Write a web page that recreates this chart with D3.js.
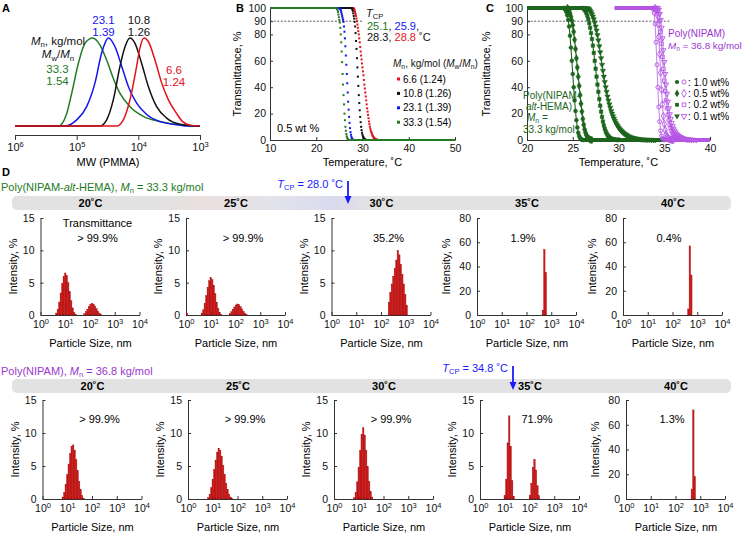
<!DOCTYPE html>
<html><head><meta charset="utf-8">
<script src="https://cdn.jsdelivr.net/npm/d3@7"></script>
<style>body{margin:0;background:#fff}</style>
</head><body>
<svg id="c" width="743" height="533"></svg>
<script>
// ================= DATA =================
// Panel A: GPC traces (log10 MW, normalized signal)
const aLabels = ["33.3", "23.1", "10.8", "6.6"];
const aDispersity = ["1.54", "1.39", "1.26", "1.24"];
const aLog33 = [6, 5.297, 5.162, 5.081, 4.973, 4.865, 4.741, 4.622, 4.514, 4.405, 4.297, 4.135, 3.919, 3.649, 3.324, 3.0];
const aH33   = [0, 0, 0.14, 0.37, 0.71, 0.94, 1.0, 0.92, 0.75, 0.54, 0.37, 0.22, 0.11, 0.05, 0.01, 0];
const aLog23 = [6, 5.189, 5.0, 4.838, 4.703, 4.595, 4.486, 4.378, 4.27, 4.162, 4.027, 3.865, 3.649, 3.324, 3.216, 3.0];
const aH23   = [0, 0, 0.07, 0.22, 0.49, 0.83, 1.0, 0.9, 0.68, 0.45, 0.26, 0.13, 0.05, 0.01, 0, 0];
const aLog108 = [6, 4.622, 4.514, 4.405, 4.297, 4.216, 4.135, 4.054, 3.946, 3.838, 3.703, 3.541, 3.324, 3.054, 3.0];
const aH108   = [0, 0, 0.07, 0.3, 0.68, 0.9, 1.0, 0.94, 0.71, 0.45, 0.22, 0.09, 0.02, 0, 0];
const aLog66 = [6, 4.351, 4.243, 4.135, 4.027, 3.973, 3.908, 3.838, 3.730, 3.622, 3.514, 3.378, 3.281, 3.162, 3.0];
const aH66   = [0, 0, 0.07, 0.3, 0.68, 0.89, 1.0, 0.96, 0.75, 0.49, 0.3, 0.14, 0.05, 0.01, 0];
const aTicks = [1e6, 1e5, 1e4, 1e3];

// Panel B: transmittance vs temperature (0.5 wt%)
const bTicksY = [0, 20, 40, 60, 80, 90, 100];
const bTicksX = [10, 20, 30, 40, 50];
const bTcp = ["25.1", "25.9", "28.3", "28.8"];
const bLegend = ["6.6 (1.24)", "10.8 (1.26)", "23.1 (1.39)", "33.3 (1.54)"];
const bRed = [[28.0,100],[28.1,99.7],[28.2,99.2],[28.3,98.3],[28.4,97],[28.5,95.5],[28.6,94],[28.7,92],[28.8,90],[28.9,87.5],[29.0,85],[29.1,82.5],[29.2,80],[29.3,77],[29.4,74],[29.5,70.5],[29.6,67],[29.7,64],[29.8,61],[29.9,58],[30.0,55],[30.1,52],[30.2,49],[30.3,45.5],[30.4,42],[30.5,39],[30.6,36],[30.7,33],[30.8,30],[30.9,27],[31.0,24],[31.1,21.5],[31.2,19],[31.3,16.5],[31.4,14],[31.5,12],[31.6,10],[31.7,8.5],[31.8,7],[31.9,6],[32.0,5],[32.1,4],[32.2,3.3],[32.3,2.6],[32.4,2],[32.5,1.6],[32.6,1.2],[32.7,0.9],[32.8,0.6],[32.9,0.4],[33.0,0.3],[33.1,0.2],[33.2,0.1],[33.3,0]];
const bBlack = [[27.6,100],[27.7,99.7],[27.8,99],[27.9,97.8],[28.0,96],[28.1,94],[28.2,92],[28.3,89.5],[28.4,86],[28.5,81],[28.6,75],[28.7,69],[28.8,62],[28.9,55],[29.0,48],[29.1,41],[29.2,34],[29.3,28],[29.4,22.5],[29.5,17.5],[29.6,13.5],[29.7,10],[29.8,7.5],[29.9,5.5],[30.0,4],[30.1,2.8],[30.2,2],[30.3,1.3],[30.4,0.8],[30.5,0.5],[30.6,0.3],[30.7,0.1],[30.8,0]];
const bBlue = [[25.0,100],[25.1,99.7],[25.2,99.2],[25.3,98.3],[25.4,97],[25.5,95.5],[25.6,94],[25.7,92.5],[25.8,91],[25.9,89.5],[26.0,86],[26.1,82],[26.2,77],[26.3,71],[26.4,64],[26.5,57],[26.6,50],[26.7,43],[26.8,36],[26.9,29],[27.0,23],[27.1,17.5],[27.2,13],[27.3,9],[27.4,6],[27.5,4],[27.6,2.5],[27.7,1.4],[27.8,0.7],[27.9,0.2],[28.0,0]];
const bGreen = [[24.3,100],[24.4,99.8],[24.5,99.3],[24.6,98.5],[24.7,97],[24.8,95],[24.9,93],[25.0,91],[25.1,89],[25.2,85],[25.3,80],[25.4,74],[25.5,67],[25.6,59],[25.7,50],[25.8,42],[25.9,34],[26.0,27],[26.1,20],[26.2,15],[26.3,10],[26.4,7],[26.5,4.5],[26.6,2.8],[26.7,1.6],[26.8,0.8],[26.9,0.3],[27.0,0]];

// Panel C: concentration dependence
const cTicksX = [20, 25, 30, 35, 40];
const cLegend = ["1.0 wt%", "0.5 wt%", "0.2 wt%", "0.1 wt%"];
const cG10 = [[24.0,100],[24.1,99.5],[24.2,98.5],[24.3,97],[24.4,94.5],[24.5,91],[24.6,86],[24.7,79],[24.8,70],[24.9,60],[25.0,50],[25.1,40],[25.2,30],[25.3,22],[25.4,15],[25.5,9.5],[25.6,5.5],[25.7,3],[25.8,1.5],[25.9,0.6],[26.0,0.2],[26.1,0]];
const cG05 = [[24.4,100],[24.5,99.3],[24.6,98],[24.7,96],[24.8,93.5],[24.9,90.5],[25.0,87],[25.1,82],[25.2,76],[25.3,69],[25.4,62],[25.5,55],[25.6,48],[25.7,41],[25.8,34],[25.9,27.5],[26.0,21.5],[26.1,16],[26.2,11.5],[26.3,8],[26.4,5.5],[26.5,3.5],[26.6,2.2],[26.7,1.3],[26.8,0.7],[26.9,0.3],[27.0,0.1],[27.1,0]];
const cG02 = [[26.1,100],[26.2,99.5],[26.3,98.7],[26.4,97.5],[26.5,96],[26.6,94],[26.7,91.5],[26.8,88.5],[26.9,85],[27.0,81],[27.1,76.5],[27.2,71.5],[27.3,66],[27.4,60],[27.5,54],[27.6,48],[27.7,42],[27.8,36.5],[27.9,31],[28.0,26],[28.1,21.5],[28.2,17.5],[28.3,14],[28.4,11],[28.5,8.5],[28.6,6.5],[28.7,5],[28.8,3.8],[28.9,2.8],[29.0,2],[29.1,1.5],[29.2,1.1],[29.3,0.8],[29.4,0.6],[29.5,0.4],[29.6,0.3],[29.7,0.2],[29.8,0.1],[29.9,0.05],[30.0,0]];
const cG01 = [[26.6,100],[26.7,99.6],[26.8,99],[26.9,98],[27.0,96.8],[27.1,95.2],[27.2,93.5],[27.3,91.5],[27.4,89],[27.5,86],[27.6,83],[27.7,79.5],[27.8,75.5],[27.9,71],[28.0,66.5],[28.1,62],[28.2,57],[28.3,52.5],[28.4,48],[28.5,44],[28.6,40],[28.7,36.5],[28.8,33],[28.9,30],[29.0,27],[29.1,24.5],[29.2,22],[29.3,20],[29.4,18],[29.5,16.2],[29.6,14.6],[29.7,13.1],[29.8,11.8],[29.9,10.6],[30.0,9.5],[30.1,8.6],[30.2,7.7],[30.3,6.9],[30.4,6.2],[30.5,5.6],[30.6,5],[30.7,4.5],[30.8,4],[30.9,3.6],[31.0,3.2],[31.2,2.6],[31.4,2.1],[31.6,1.6],[31.8,1.3],[32.0,1.0],[32.2,0.8],[32.4,0.6],[32.6,0.45],[32.8,0.35],[33.0,0.25],[33.2,0.18],[33.4,0.12],[33.6,0.08],[33.8,0.04],[34.0,0]];
const cP10 = [[33.7,100],[33.8,99],[33.9,96],[34.0,88],[34.1,74],[34.2,57],[34.3,40],[34.4,25],[34.5,14],[34.6,7],[34.7,3],[34.8,1.2],[34.9,0.4],[35.0,0]];
const cP05 = [[34.0,100],[34.1,98.5],[34.2,95],[34.3,88],[34.4,78],[34.5,65],[34.6,51],[34.7,38],[34.8,27],[34.9,18],[35.0,12],[35.1,7.5],[35.2,4.5],[35.3,2.7],[35.4,1.6],[35.5,0.9],[35.6,0.5],[35.7,0.3],[35.8,0.2],[35.9,0.1],[36.0,0]];
const cP02 = [[34.2,100],[34.3,98.5],[34.4,95.5],[34.5,90],[34.6,82],[34.7,73],[34.8,63],[34.9,54],[35.0,45],[35.1,37],[35.2,30],[35.3,24],[35.4,19],[35.5,15],[35.6,11.5],[35.7,9],[35.8,7],[35.9,5.4],[36.0,4.2],[36.1,3.3],[36.2,2.6],[36.3,2],[36.4,1.6],[36.5,1.3],[36.6,1.0],[36.8,0.6],[37.0,0.3],[37.2,0.15],[37.4,0.05],[37.6,0]];
const cP01 = [[34.3,100],[34.4,98.5],[34.5,95.5],[34.6,91],[34.7,85],[34.8,77],[34.9,68],[35.0,59],[35.1,50],[35.2,42],[35.3,35],[35.4,29],[35.5,24],[35.6,19.5],[35.7,16],[35.8,13],[35.9,10.5],[36.0,8.6],[36.1,7.1],[36.2,5.8],[36.3,4.8],[36.4,4],[36.5,3.4],[36.6,2.8],[36.7,2.4],[36.8,2],[36.9,1.7],[37.0,1.4],[37.2,1.0],[37.4,0.7],[37.6,0.45],[37.8,0.3],[38.0,0.2],[38.2,0.1],[38.5,0]];
const cGreenStart = 20, cGreenEnd = 35, cPurpleStart = 29.6, cPurpleEnd = 40;

// Panel D: DLS histograms (bin step in log10 nm, first bin centre, intensities %)
const dTemps = ["20˚C", "25˚C", "30˚C", "35˚C", "40˚C"];
const dBinStep = 0.06;
const r1Start = [0.64, 0.04, 2.32, 2.66, 2.64];
const r1h20 = [0.3,0.9,2.0,3.4,4.9,6.0,6.5,6.1,5.0,3.6,2.2,1.1,0.4,0.1,0,0,0,0,0,0.2,0.5,0.9,1.3,1.65,1.8,1.7,1.4,1.0,0.6,0.3,0.1];
const r1h25 = [0.3,0,0,0,0,0,0,0,0,0,0.3,0.8,1.8,3.0,4.3,5.3,5.8,5.5,4.6,3.3,2.0,1.0,0.4,0.1,0,0,0,0,0,0.2,0.5,0.9,1.25,1.55,1.7,1.6,1.3,0.95,0.6,0.3,0.1];
const r1h30 = [2.0,3.5,4.8,6.0,7.2,8.5,10.0,9.3,7.8,6.3,4.8,3.2,1.5];
const r1h35 = [4, 54, 35];
const r1h40 = [5, 57, 33];
const r1YMax = [15, 15, 15, 80, 80];
const r1Notes = ["> 99.9%", "> 99.9%", "35.2%", "1.9%", "0.4%"];
const r2Start = [0.82, 0.82, 0.82, 1.00, 2.66];
const r2h20 = [0.3,1.0,2.2,3.7,5.3,6.9,8.0,8.2,7.4,6.0,4.3,2.7,1.4,0.5,0.1];
const r2h25 = [0.2,0.7,1.7,3.0,4.5,5.9,7.1,7.7,7.4,6.5,5.1,3.7,2.4,1.4,0.7,0.3,0.1];
const r2h30 = [0.2,1.0,2.6,4.8,7.4,9.8,10.8,9.7,7.4,4.9,2.7,1.1,0.3];
const r2h35 = [0.5,3.0,8.5,12.6,8.0,2.8,0.4,0,0,0,0,0,0,0,0,0,0,0.6,2.4,4.8,6.0,4.4,2.0,0.5];
const r2h40 = [8, 72, 18];
const r2YMax = [15, 15, 15, 15, 80];
const r2Notes = ["> 99.9%", "> 99.9%", "> 99.9%", "71.9%", "1.3%"];
const dTcp = ["28.0", "34.8"];

// ================= DRAWING =================
const FONT = '"Liberation Sans", Arial, Helvetica, sans-serif';
const GREEN = "#237a23", CGREEN = "#1d651d", BLUE = "#1414f0", RED = "#e3121b", BLACK = "#111";
const PURPLE = "#9a36cf", PLINE = "#b455e4";
const svg = d3.select("#c").attr("font-family", FONT);

function rich(g, x, y, parts, size = 11, anchor = "start", fill = "#111") {
  const t = g.append("text").attr("x", x).attr("y", y).attr("font-size", size)
    .attr("text-anchor", anchor).attr("fill", fill);
  let shift = 0;
  parts.forEach(p => {
    if (typeof p === "string") p = { t: p };
    const s = t.append("tspan").text(p.t);
    const target = p.sub ? size * 0.22 : p.sup ? -size * 0.38 : 0;
    if (target !== shift) { s.attr("dy", target - shift); shift = target; }
    if (p.sub || p.sup) s.attr("font-size", size * 0.68);
    if (p.i) s.attr("font-style", "italic");
    if (p.c) s.attr("fill", p.c);
    if (p.b) s.attr("font-weight", "bold");
  });
  return t;
}
function styleAxis(g, fs = 10.5) {
  g.attr("font-family", FONT).attr("font-size", fs);
  g.selectAll("path.domain").attr("stroke", "#333");
  g.selectAll(".tick line").attr("stroke", "#333");
  g.selectAll(".tick text").attr("fill", "#111");
}
function supLabels(g) {
  g.selectAll(".tick text").each(function (d) {
    const e = Math.round(Math.log10(d));
    const t = d3.select(this).text(null);
    t.append("tspan").text("10");
    t.append("tspan").attr("dy", -4).attr("font-size", 7.5).text(e);
  });
}
function panelLabel(x, y, s) {
  svg.append("text").attr("x", x).attr("y", y).attr("font-size", 11).attr("font-weight", "bold").text(s);
}
panelLabel(2, 12, "A"); panelLabel(236, 12, "B"); panelLabel(486, 12, "C"); panelLabel(2, 176, "D");

// ---------- Panel A ----------
{
  const g = svg.append("g");
  const x = d3.scaleLog().domain([1e6, 1e3]).range([15, 200]);
  const y = d3.scaleLinear().domain([0, 1]).range([126, 38]);
  const ax = g.append("g").attr("transform", "translate(0,135)")
    .call(d3.axisBottom(x).tickValues(aTicks).tickSize(5).tickSizeOuter(0).tickPadding(3));
  styleAxis(ax, 11); supLabels(ax);
  g.append("text").attr("x", 108).attr("y", 166).attr("text-anchor", "middle").attr("font-size", 11).text("MW (PMMA)");
  const series = [[aLog33, aH33, GREEN], [aLog23, aH23, BLUE], [aLog108, aH108, BLACK], [aLog66, aH66, RED]];
  const line = d3.line().x(d => x(Math.pow(10, d[0]))).y(d => y(d[1])).curve(d3.curveMonotoneX);
  series.forEach(([lx, h, c]) => {
    g.append("path").attr("d", line(lx.map((v, i) => [v, h[i]]))).attr("fill", "none")
      .attr("stroke", c).attr("stroke-width", 1.5);
  });
  const fs = 11.5;
  rich(g, 103.5, 23.5, [aLabels[1]], fs, "middle", BLUE);
  rich(g, 103.5, 36, [aDispersity[1]], fs, "middle", BLUE);
  rich(g, 139, 23.5, [aLabels[2]], fs, "middle", BLACK);
  rich(g, 139, 36, [aDispersity[2]], fs, "middle", BLACK);
  rich(g, 58, 44.5, [{ t: "M", i: 1 }, { t: "n", sub: 1 }, ", kg/mol"], 11.5, "middle");
  rich(g, 58, 58, [{ t: "M", i: 1 }, { t: "w", sub: 1 }, "/", { t: "M", i: 1 }, { t: "n", sub: 1 }], 11.5, "middle");
  rich(g, 57.5, 72.5, [aLabels[0]], fs, "middle", GREEN);
  rich(g, 57.5, 85, [aDispersity[0]], fs, "middle", GREEN);
  rich(g, 174, 73.5, [aLabels[3]], fs, "middle", RED);
  rich(g, 174, 86, [aDispersity[3]], fs, "middle", RED);
}

// ---------- Transmittance panels helper ----------
function tAxes(g, x, y, ticksX, yLabelX) {
  const ay = g.append("g").attr("transform", `translate(${x.range()[0]},0)`)
    .call(d3.axisLeft(y).tickValues(bTicksY).tickSize(-3).tickSizeOuter(0).tickPadding(4));
  styleAxis(ay, 10.5);
  const axx = g.append("g").attr("transform", `translate(0,${y.range()[0]})`)
    .call(d3.axisBottom(x).tickValues(ticksX).tickSize(-3).tickSizeOuter(0).tickPadding(5));
  styleAxis(axx, 10.5);
  g.append("text").attr("transform", `translate(${yLabelX},74) rotate(-90)`).attr("text-anchor", "middle")
    .attr("font-size", 11).text("Transmittance, %");
  g.append("text").attr("x", (x.range()[0] + x.range()[1]) / 2).attr("y", 166).attr("text-anchor", "middle")
    .attr("font-size", 11).text("Temperature, ˚C");
}

// ---------- Panel B ----------
{
  const g = svg.append("g");
  const x = d3.scaleLinear().domain([10, 50]).range([270, 455]);
  const y = d3.scaleLinear().domain([0, 100]).range([140, 8]);
  tAxes(g, x, y, bTicksX, 241);
  g.append("line").attr("x1", x(10)).attr("x2", x(30.1)).attr("y1", y(90)).attr("y2", y(90))
    .attr("stroke", "#333").attr("stroke-width", 0.8).attr("stroke-dasharray", "2,1.6");
  const series = [[bRed, RED], [bBlack, BLACK], [bBlue, BLUE], [bGreen, GREEN]];
  series.forEach(([d, c]) => {
    const f = d[0], l = d[d.length - 1];
    g.append("line").attr("x1", x(10)).attr("x2", x(f[0])).attr("y1", y(f[1])).attr("y2", y(f[1]))
      .attr("stroke", c).attr("stroke-width", 2.2);
    g.append("line").attr("x1", x(l[0])).attr("x2", x(50)).attr("y1", y(l[1])).attr("y2", y(l[1]))
      .attr("stroke", c).attr("stroke-width", 2.2);
    g.selectAll(null).data(d).enter().append("rect")
      .attr("x", p => x(p[0]) - 1).attr("y", p => y(p[1]) - 1).attr("width", 2).attr("height", 2).attr("fill", c);
  });
  rich(g, 366, 17, [{ t: "T", i: 1 }, { t: "CP", sub: 1 }], 11);
  rich(g, 367, 30, [{ t: bTcp[0], c: GREEN }, ", ", { t: bTcp[1], c: BLUE }, ","], 11);
  rich(g, 367, 41, [{ t: bTcp[2], c: BLACK }, ", ", { t: bTcp[3], c: RED }, " ˚C"], 11);
  rich(g, 393, 67, [{ t: "M", i: 1 }, { t: "n", sub: 1 }, ", kg/mol (", { t: "M", i: 1 }, { t: "w", sub: 1 }, "/", { t: "M", i: 1 }, { t: "n", sub: 1 }, ")"], 10);
  const lc = [RED, BLACK, BLUE, GREEN];
  bLegend.forEach((s, i) => {
    const yy = 79 + i * 14.4;
    g.append("rect").attr("x", 397).attr("y", yy - 1.5).attr("width", 3).attr("height", 3).attr("fill", lc[i]);
    g.append("text").attr("x", 403).attr("y", yy + 3.6).attr("font-size", 10).text(s);
  });
  g.append("text").attr("x", 277).attr("y", 132).attr("font-size", 11).text("0.5 wt %");
}

// ---------- Panel C ----------
{
  const g = svg.append("g");
  const x = d3.scaleLinear().domain([20, 40]).range([527, 710]);
  const y = d3.scaleLinear().domain([0, 100]).range([140, 8]);
  tAxes(g, x, y, cTicksX, 490);
  g.append("line").attr("x1", x(20)).attr("x2", x(35.6)).attr("y1", y(90)).attr("y2", y(90))
    .attr("stroke", "#333").attr("stroke-width", 0.8).attr("stroke-dasharray", "2,1.6");
  const sym = [d3.symbolCircle, d3.symbolDiamond, d3.symbolSquare, d3.symbolTriangle];
  const rot = [0, 0, 0, 180];
  const line = d3.line().x(p => x(p[0])).y(p => y(p[1]));
  function drawSeries(d, k, color, lineColor, filled, t0, t1) {
    const f = d[0], l = d[d.length - 1];
    g.append("path").attr("d", line([[t0, f[1]], ...d, [t1, l[1]]])).attr("fill", "none")
      .attr("stroke", lineColor).attr("stroke-width", 1.1);
    g.append("line").attr("x1", x(t0)).attr("x2", x(f[0])).attr("y1", y(f[1])).attr("y2", y(f[1]))
      .attr("stroke", color).attr("stroke-width", 4);
    g.append("line").attr("x1", x(l[0])).attr("x2", x(t1)).attr("y1", y(l[1])).attr("y2", y(l[1]))
      .attr("stroke", color).attr("stroke-width", 4);
    const s = d3.symbol().type(sym[k]).size(k === 1 ? 16 : 12);
    g.selectAll(null).data(d).enter().append("path").attr("d", s)
      .attr("transform", p => `translate(${x(p[0])},${y(p[1])}) rotate(${rot[k]})`)
      .attr("fill", filled ? color : "none").attr("stroke", color).attr("stroke-width", filled ? 0.5 : 0.9);
  }
  [cG10, cG05, cG02, cG01].forEach((d, k) => drawSeries(d, k, CGREEN, CGREEN, true, cGreenStart, cGreenEnd));
  [cP10, cP05, cP02, cP01].forEach((d, k) => drawSeries(d, k, PLINE, "#c98aea", false, cPurpleStart, cPurpleEnd));
  rich(g, 668, 37, ["Poly(NIPAM)"], 10, "start", PURPLE);
  rich(g, 668, 49, [{ t: "M", i: 1 }, { t: "n", sub: 1 }, " = 36.8 kg/mol"], 9.8, "start", PURPLE);
  rich(g, 523, 99, ["Poly(NIPAM-"], 10, "start", CGREEN);
  rich(g, 526, 110, [{ t: "alt", i: 1 }, "-HEMA)"], 10, "start", CGREEN);
  rich(g, 527, 121, [{ t: "M", i: 1 }, { t: "n", sub: 1 }, " ="], 10, "start", CGREEN);
  rich(g, 523, 133, ["33.3 kg/mol"], 10, "start", CGREEN);
  cLegend.forEach((s, k) => {
    const yy = 82 + k * 11.4;
    const sy = d3.symbol().type(sym[k]).size(k === 1 ? 18 : 14);
    g.append("path").attr("d", sy).attr("transform", `translate(677,${yy}) rotate(${rot[k]})`).attr("fill", CGREEN);
    g.append("path").attr("d", sy).attr("transform", `translate(684,${yy}) rotate(${rot[k]})`)
      .attr("fill", "none").attr("stroke", PLINE).attr("stroke-width", 0.9);
    g.append("text").attr("x", 688).attr("y", yy + 3.5).attr("font-size", 10).text(": " + s);
  });
}

// ---------- Panel D ----------
const defs = svg.append("defs");
const grad = defs.append("linearGradient").attr("id", "band1").attr("gradientUnits", "userSpaceOnUse")
  .attr("x1", 12).attr("x2", 731).attr("y1", 0).attr("y2", 0);
[[0, "#e2e2e2"], [0.2, "#e2e2e2"], [0.27, "#ebdfdf"], [0.36, "#e3e3ea"], [0.45, "#dadaef"], [0.5, "#e2e2e2"], [1, "#e2e2e2"]]
  .forEach(([o, c]) => grad.append("stop").attr("offset", o).attr("stop-color", c));

function dRow(cfg) {
  const g = svg.append("g");
  rich(g, 1, cfg.titleY, cfg.title, 11, "start", cfg.titleColor);
  g.append("rect").attr("x", 12).attr("y", cfg.bandY).attr("width", 719).attr("height", 14).attr("rx", 5)
    .attr("fill", cfg.bandFill);
  rich(g, cfg.arrowX - 5, cfg.tcpY, [{ t: "T", i: 1 }, { t: "CP", sub: 1 }, " = " + cfg.tcp + " ˚C"], 11, "end", "#1a1aff");
  g.append("line").attr("x1", cfg.arrowX).attr("x2", cfg.arrowX).attr("y1", cfg.arrowY0).attr("y2", cfg.arrowY1 - 6)
    .attr("stroke", "#1a1aff").attr("stroke-width", 1.8);
  g.append("path").attr("d", `M${cfg.arrowX - 3.5},${cfg.arrowY1 - 8}L${cfg.arrowX + 3.5},${cfg.arrowY1 - 8}L${cfg.arrowX},${cfg.arrowY1}Z`)
    .attr("fill", "#1a1aff");
  cfg.hists.forEach((vals, k) => {
    const left = cfg.lefts[k];
    const x = d3.scaleLog().domain([1, 1e4]).range([left, left + 99]);
    const ymax = cfg.ymax[k];
    const y = d3.scaleLinear().domain([0, ymax]).range([cfg.bottom, cfg.top]);
    g.append("text").attr("x", left + 50).attr("y", cfg.bandY + 11).attr("text-anchor", "middle")
      .attr("font-size", 11).attr("font-weight", "bold").text(dTemps[k]);
    const ay = g.append("g").attr("transform", `translate(${left},0)`)
      .call(d3.axisLeft(y).tickValues(ymax === 15 ? [0, 5, 10, 15] : [0, 20, 40, 60, 80]).tickSize(-3).tickSizeOuter(0).tickPadding(6));
    styleAxis(ay, 10.5);
    const axx = g.append("g").attr("transform", `translate(0,${cfg.bottom})`)
      .call(d3.axisBottom(x).tickValues([1, 10, 100, 1000, 10000]).tickSize(-3).tickSizeOuter(0).tickPadding(6));
    styleAxis(axx, 10.5); supLabels(axx);
    g.append("text").attr("transform", `translate(${left - (ymax === 15 ? 24 : 27)},${(cfg.top + cfg.bottom) / 2}) rotate(-90)`)
      .attr("text-anchor", "middle").attr("font-size", 11).text("Intensity, %");
    g.append("text").attr("x", left + 50).attr("y", cfg.bottom + 32).attr("text-anchor", "middle")
      .attr("font-size", 11).text("Particle Size, nm");
    const start = cfg.starts[k];
    vals.forEach((v, i) => {
      if (v <= 0) return;
      const c = start + i * dBinStep;
      const x0 = x(Math.pow(10, c - dBinStep / 2)), x1 = x(Math.pow(10, c + dBinStep / 2));
      g.append("rect").attr("x", x0).attr("y", y(v)).attr("width", x1 - x0).attr("height", y(0) - y(v))
        .attr("fill", "#d01818").attr("stroke", "#9e0b0b").attr("stroke-width", 0.35);
    });
    const nx = left + (ymax === 15 ? 57 : 46);
    g.append("text").attr("x", nx).attr("y", cfg.top + cfg.noteDy).attr("text-anchor", "middle")
      .attr("font-size", 11).text(cfg.notes[k]);
    if (cfg.extraNote && k === 0)
      g.append("text").attr("x", nx).attr("y", cfg.top + cfg.noteDy - 15).attr("text-anchor", "middle")
        .attr("font-size", 11).text(cfg.extraNote);
  });
}

dRow({
  title: ["Poly(NIPAM-", { t: "alt", i: 1 }, "-HEMA), ", { t: "M", i: 1 }, { t: "n", sub: 1 }, " = 33.3 kg/mol"],
  titleColor: GREEN, titleY: 191, bandY: 196, bandFill: "url(#band1)",
  tcp: dTcp[0], tcpY: 188, arrowX: 348, arrowY0: 181, arrowY1: 204,
  lefts: [40.5, 186, 331.5, 477, 623], top: 218, bottom: 315,
  hists: [r1h20, r1h25, r1h30, r1h35, r1h40], starts: r1Start, ymax: r1YMax,
  notes: r1Notes, extraNote: "Transmittance", noteDy: 24
});
dRow({
  title: ["Poly(NIPAM), ", { t: "M", i: 1 }, { t: "n", sub: 1 }, " = 36.8 kg/mol"],
  titleColor: PURPLE, titleY: 375, bandY: 379, bandFill: "#e2e2e2",
  tcp: dTcp[1], tcpY: 372, arrowX: 513, arrowY0: 366, arrowY1: 390,
  lefts: [42.5, 188, 334, 480, 626], top: 400, bottom: 499,
  hists: [r2h20, r2h25, r2h30, r2h35, r2h40], starts: r2Start, ymax: r2YMax,
  notes: r2Notes, extraNote: null, noteDy: 23
});
</script>
</body></html>
